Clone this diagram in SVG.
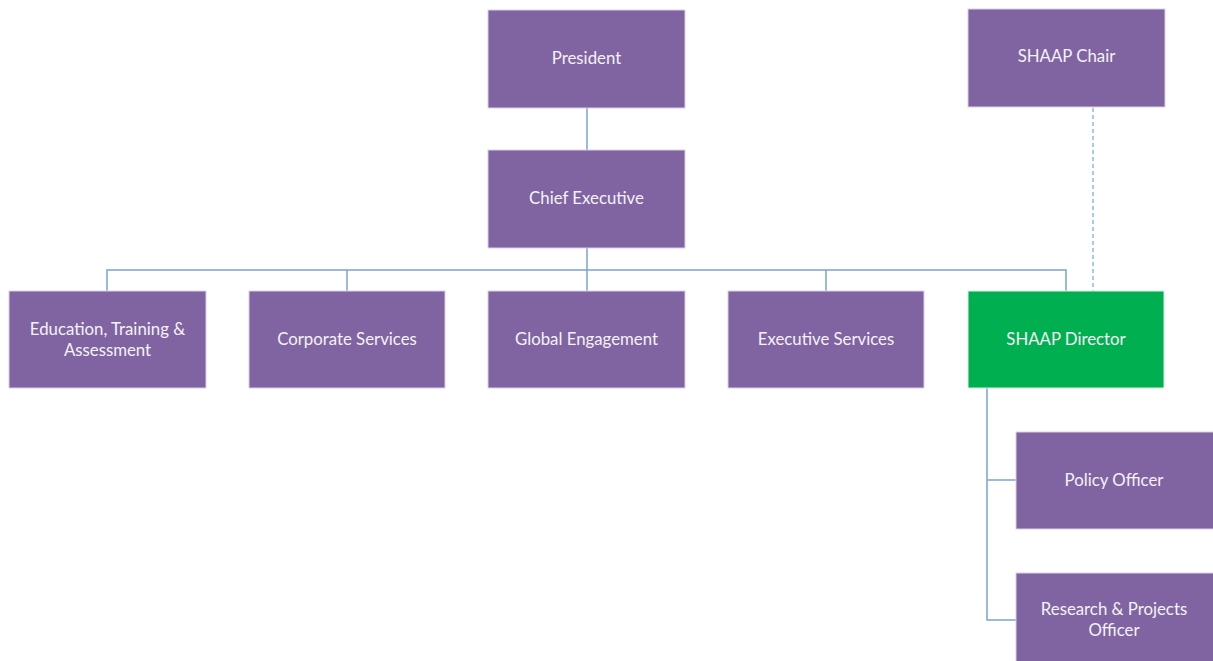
<svg xmlns="http://www.w3.org/2000/svg" width="1213" height="661" viewBox="0 0 1213 661">
<style>
.box{fill:#8064A2;stroke:#D9CFE6;stroke-width:1}
.green{fill:#00B050;stroke:#D9F0E0;stroke-width:1}
.lbl{font-family:Lato,"Open Sans",sans-serif;font-size:16.8px;fill:#F4F2F7;text-anchor:middle;dominant-baseline:central}
.conn{fill:none;stroke:#7BA3CC;stroke-width:1.5}
.dash{fill:none;stroke:#8DB8E2;stroke-width:1.5;stroke-dasharray:4 3}
</style>
<rect width="1213" height="661" fill="#FFFFFF"/>
<g id="connectors">
<path class="conn" d="M587 108 V150"/>
<path class="conn" d="M587 248 V291"/>
<path class="conn" d="M107 291 V270 H1066 V291"/>
<path class="conn" d="M347 270 V291"/>
<path class="conn" d="M826 270 V291"/>
<path class="dash" d="M1093 108 V291"/>
<path class="conn" d="M987 388 V620 H1016"/>
<path class="conn" d="M987 480 H1016"/>
</g>
<g id="president"><rect class="box" x="488" y="10" width="197" height="98"/><text class="lbl" x="586.5" y="57.5">President</text></g>
<g id="chief-executive"><rect class="box" x="488" y="150" width="197" height="98"/><text class="lbl" x="586.5" y="197.5">Chief Executive</text></g>
<g id="shaap-chair"><rect class="box" x="968" y="9" width="197" height="98"/><text class="lbl" x="1066.5" y="55">SHAAP Chair</text></g>
<g id="education"><rect class="box" x="9" y="291" width="197" height="97"/><text class="lbl" x="107.5" y="328">Education, Training &amp;</text><text class="lbl" x="107.5" y="349">Assessment</text></g>
<g id="corporate-services"><rect class="box" x="249" y="291" width="196" height="97"/><text class="lbl" x="347" y="338">Corporate Services</text></g>
<g id="global-engagement"><rect class="box" x="488" y="291" width="197" height="97"/><text class="lbl" x="586.5" y="338">Global Engagement</text></g>
<g id="executive-services"><rect class="box" x="728" y="291" width="196" height="97"/><text class="lbl" x="826" y="338">Executive Services</text></g>
<g id="shaap-director"><rect class="green" x="968" y="291" width="196" height="97"/><text class="lbl" x="1066" y="338">SHAAP Director</text></g>
<g id="policy-officer"><rect class="box" x="1016" y="432" width="198" height="97"/><text class="lbl" x="1114" y="479">Policy Officer</text></g>
<g id="research-officer"><rect class="box" x="1016" y="573" width="198" height="90"/><text class="lbl" x="1114" y="608">Research &amp; Projects</text><text class="lbl" x="1114" y="629">Officer</text></g>
</svg>
